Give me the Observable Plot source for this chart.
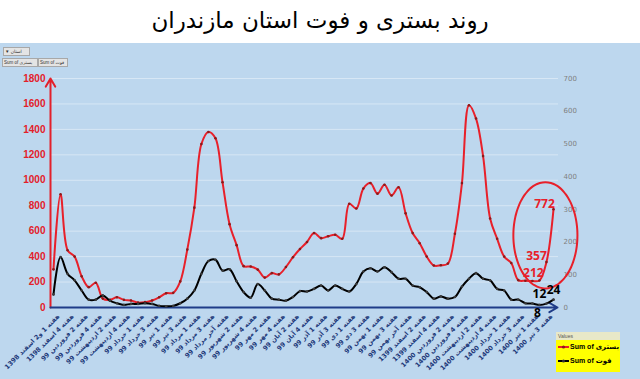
<!DOCTYPE html>
<html><head><meta charset="utf-8">
<script src="https://cdn.jsdelivr.net/npm/d3@7"></script>
<script src="https://cdn.jsdelivr.net/npm/@observablehq/plot@0.6"></script>
<style>
body{margin:0;background:#fff;width:640px;height:379px;overflow:hidden;font-family:"DejaVu Sans",sans-serif;}
#title{height:43px;line-height:40px;text-align:center;font-size:23px;direction:rtl;color:#000;}
#chart{position:relative;width:640px;height:336px;background:#bdd7ee;}
.btn{position:absolute;background:#e4e4e4;border:1px solid #a8a8a8;font-size:4.5px;line-height:7px;color:#333;white-space:nowrap;padding:0 1px;box-sizing:border-box;height:9px;overflow:hidden;font-family:"Liberation Sans","DejaVu Sans",sans-serif;}
#legend{position:absolute;left:556px;top:289px;width:64px;height:40px;background:#ffff00;box-sizing:border-box;overflow:hidden;}
#legend .hd{height:8px;background:#e8e8c8;font-size:5px;line-height:8px;padding-left:2px;color:#555;font-family:"Liberation Sans",sans-serif;}
#legend .row{display:flex;align-items:center;height:14px;font-size:7px;font-weight:bold;white-space:nowrap;font-family:"Liberation Sans","DejaVu Sans",sans-serif;}
#legend svg{margin:0 1px 0 2px;flex:none;}
</style></head>
<body>
<div id="title">روند بستری و فوت استان مازندران</div>
<div id="chart">
  <div class="btn" style="left:3px;top:4px;width:27px;">▼ استان</div>
  <div class="btn" style="left:2px;top:15px;width:36px;">Sum of بستری</div>
  <div class="btn" style="left:38px;top:15px;width:30px;">Sum of فوت</div>
  <div id="legend">
    <div class="hd">Values</div>
    <div class="row"><svg width="11" height="6"><line x1="0" y1="3" x2="11" y2="3" stroke="#e8202a" stroke-width="2"/><circle cx="5.5" cy="3" r="1.6" fill="#8b1a1a"/></svg><span>Sum of بستری</span></div>
    <div class="row"><svg width="11" height="6"><line x1="0" y1="3" x2="11" y2="3" stroke="#000" stroke-width="2"/><circle cx="5.5" cy="3" r="1.6" fill="#333"/></svg><span>Sum of فوت</span></div>
  </div>
</div>
<script>
// Tick labels (every other week shown)
const xLabels = [
  "هفته 1 و2 اسفند 1398","هفته 4 اسفند 1398","هفته 2 فروردین 99","هفته 4 فروردین 99",
  "هفته 2 اردیبهشت 99","هفته 4 اردیبهشت 99","هفته 1 خرداد 99","هفته 3 خرداد 99",
  "هفته 1 تیر 99","هفته 3 تیر 99","هفته 1 مرداد 99","هفته 3 مرداد 99",
  "هفته آخر مرداد 99","هفته 2 شهریور 99","هفته 4 شهریور 99","هفته 2 مهر 99",
  "هفته 4 مهر 99","هفته 2 آبان 99","هفته 4 آبان 99","هفته 1 آذر 99",
  "هفته 3 آذر 99","هفته 1 دی 99","هفته 3 دی 99","هفته 1 بهمن 99",
  "هفته 3 بهمن 99","هفته آخر بهمن 99","هفته 2 اسفند 1399","هفته 4 اسفند 1399",
  "هفته 2 فروردین 1400","هفته 4 فروردین 1400","هفته 2 اردیبهشت 1400","هفته 4 اردیبهشت 1400",
  "هفته 1 خرداد 1400","هفته 3 خرداد 1400","هفته 1 تیر 1400","هفته 3 تیر 1400"
];
// Hospitalized (left axis)
const hospitalized = [
  300,890,450,400,245,160,195,70,60,80,60,55,38,42,55,80,112,115,205,455,
  785,1285,1380,1330,985,655,490,325,322,298,235,270,260,318,395,460,515,585,545,560,
  572,540,815,778,935,978,895,965,880,945,740,585,505,400,330,332,345,580,978,1590,
  1485,1190,700,540,400,350,215,210,208,212,357,772
];
// Deaths (right axis)
const deaths = [
  40,154,103,83,52,24,24,37,21,13,8,11,11,13,11,5,4,5,13,27,
  52,103,142,146,113,117,80,47,30,72,52,27,24,21,32,50,49,57,67,52,
  67,57,49,72,110,120,110,123,108,88,88,67,62,47,27,34,27,32,64,88,
  105,88,83,57,52,24,24,13,12,8,12,24
];
const leftTicks = [0,200,400,600,800,1000,1200,1400,1600,1800];
const rightTicks = [0,100,200,300,400,500,600,700];
// highlighted recent weeks (circled annotation)
const highlightWeeks = [65.3, 74.4];
const highlightRange = [150, 985];

const ratio = 1800 / 700;
const n = hospitalized.length;
const data = hospitalized.map((v, i) => ({i, bed: v, death: deaths[i]}));
const RED = "#e8202a";

const [hx0, hx1] = highlightWeeks, [hy0, hy1] = highlightRange;
const ellipse = d3.range(0, 365, 5).map(a => {
  const t = a * Math.PI / 180;
  return {x: (hx0 + hx1) / 2 + (hx1 - hx0) / 2 * Math.cos(t), y: (hy0 + hy1) / 2 + (hy1 - hy0) / 2 * Math.sin(t)};
});
const pick = idx => data.filter(d => d.i === idx);
const lbl = {fontSize: 12, fontWeight: "bold", fontFamily: "Open Sans, sans-serif"};

const plot = Plot.plot({
  width: 640, height: 336,
  marginTop: 35, marginBottom: 72, marginLeft: 53, marginRight: 87,
  style: {background: "transparent", fontFamily: "DejaVu Sans, sans-serif", overflow: "visible"},
  x: {type: "linear", domain: [0, n - 1], axis: null},
  y: {domain: [0, 1800], axis: null},
  marks: [
    Plot.ruleY(leftTicks.filter(v => v > 0), {stroke: "#ffffff", strokeOpacity: 0.4, insetLeft: -3, insetRight: -5}),
    Plot.axisY({anchor: "left", ticks: leftTicks, tickFormat: d => String(d), tickSize: 0, tickPadding: 8, fill: "#e3202a", fontSize: 10, fontWeight: "bold", label: null, fontFamily: "Liberation Sans, sans-serif"}),
    Plot.axisY({anchor: "right", ticks: rightTicks.map(v => v * ratio), tickFormat: d => String(Math.round(d / ratio)), tickSize: 0, tickPadding: 10, fill: "#7f7f7f", fontSize: 7, label: null}),
    Plot.axisX({ticks: d3.range(0, n, 2), tickFormat: i => xLabels[i / 2], tickRotate: -45, textAnchor: "end", tickSize: 0, tickPadding: 4, dx: 5, dy: 4, fill: "#1f3a7a", fontSize: 6.4, fontWeight: "bold", label: null}),
    Plot.arrow([{x1: 0, x2: 0, y1: 0, y2: 1800}], {x1: "x1", x2: "x2", y1: "y1", y2: "y2", dx: -3, stroke: "#e3202a", strokeWidth: 2, headLength: 7}),
    Plot.arrow([{x1: 0, x2: n - 1, y1: 0, y2: 0}], {x1: "x1", x2: "x2", y1: "y1", y2: "y2", insetStart: -3, insetEnd: -4, stroke: "#1f3c88", strokeWidth: 2, headLength: 7}),
    Plot.line(data, {x: "i", y: "bed", stroke: RED, strokeWidth: 2, curve: "catmull-rom"}),
    Plot.dot(data, {x: "i", y: "bed", r: 1.3, fill: "#8b1a1a"}),
    Plot.line(data, {x: "i", y: d => d.death * ratio, stroke: "#000", strokeWidth: 2, curve: "catmull-rom"}),
    Plot.dot(data, {x: "i", y: d => d.death * ratio, r: 1.3, fill: "#3a3a3a"}),
    Plot.line(ellipse, {x: "x", y: "y", stroke: RED, strokeWidth: 2, curve: "catmull-rom"}),
    Plot.text(pick(71), {x: "i", y: "bed", text: "bed", dx: -9, dy: -5, fill: RED, ...lbl}),
    Plot.text(pick(70), {x: "i", y: "bed", text: "bed", dx: -10, dy: -6, fill: RED, ...lbl}),
    Plot.text(pick(69), {x: "i", y: "bed", text: "bed", dx: -6, dy: -7, fill: RED, ...lbl}),
    Plot.text(pick(71), {x: "i", y: d => d.death * ratio, text: "death", dx: 0, dy: -9, fill: "#000", ...lbl}),
    Plot.text(pick(70), {x: "i", y: d => d.death * ratio, text: "death", dx: -7, dy: -9, fill: "#000", ...lbl}),
    Plot.text(pick(69), {x: "i", y: d => d.death * ratio, text: "death", dx: -2, dy: 8, fill: "#000", ...lbl})
  ]
});
document.getElementById("chart").prepend(plot);
</script>
</body></html>
